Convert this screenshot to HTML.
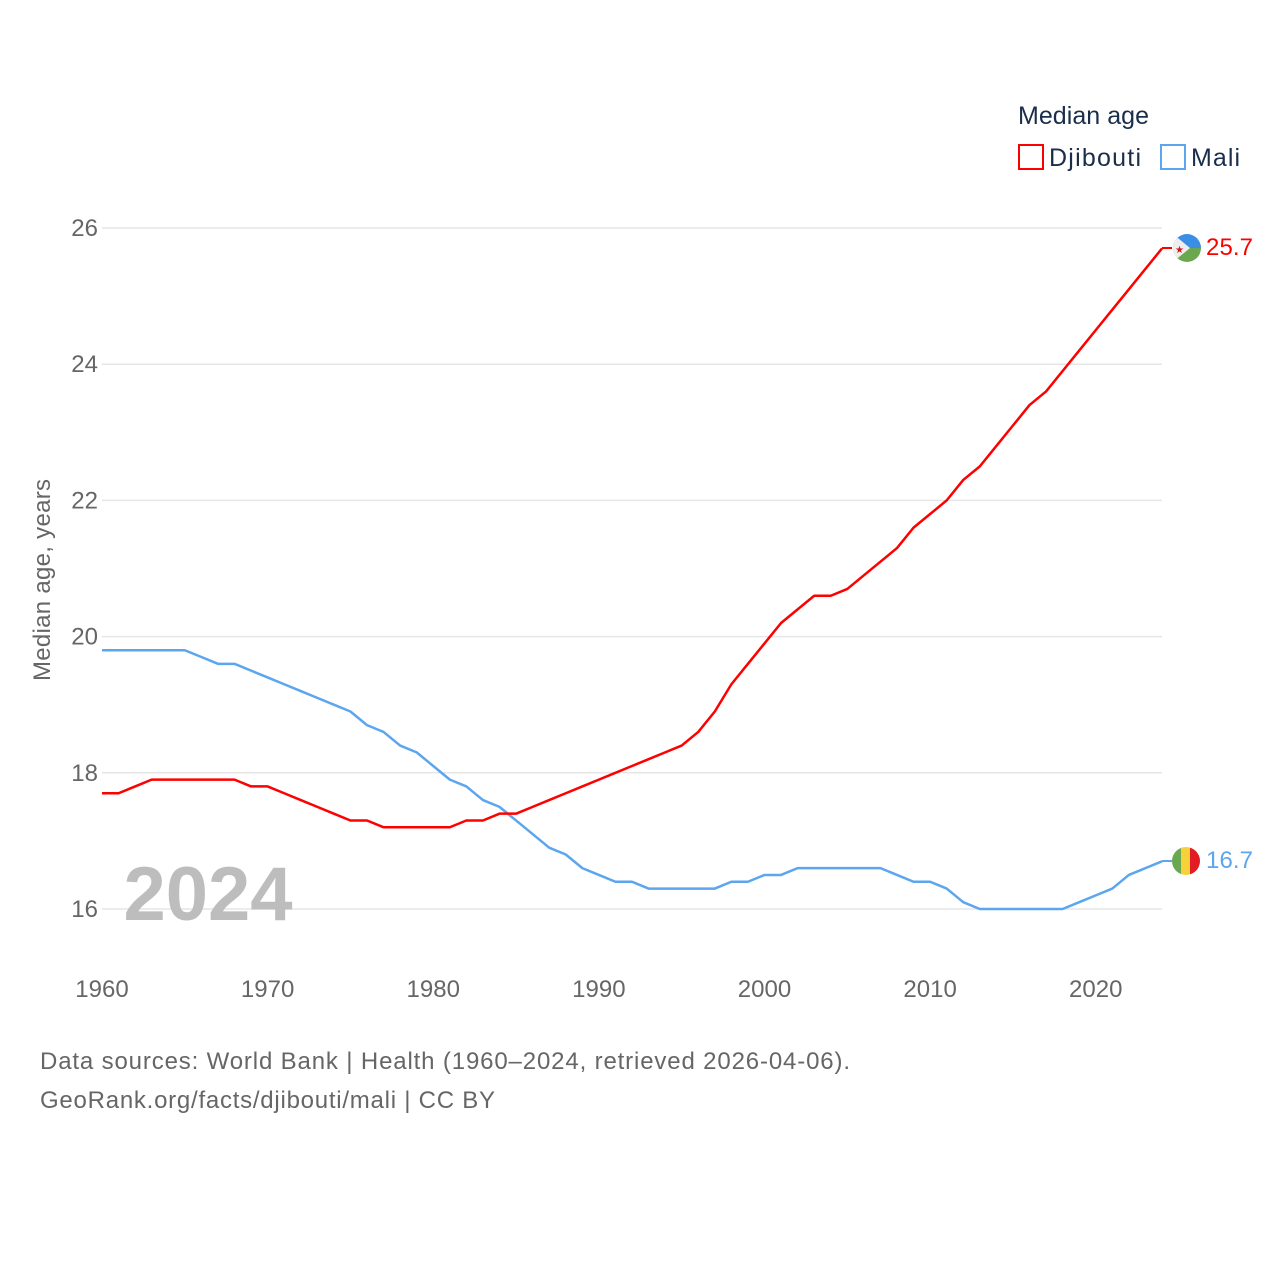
<!DOCTYPE html>
<html><head><meta charset="utf-8"><style>
body{margin:0;background:#fff;font-family:"Liberation Sans",sans-serif;}
svg{display:block}
</style></head><body>
<svg id="chart" width="1280" height="1280" viewBox="0 0 1280 1280">
<g id="grid"></g>
<g id="yticks"></g>
<g id="xticks"></g>
<text x="208" y="920" font-size="76" font-weight="bold" fill="#bdbdbd" text-anchor="middle">2024</text>
<text transform="translate(50,580) rotate(-90)" font-size="24" fill="#666" text-anchor="middle" textLength="202">Median age, years</text>
<g id="series"></g>
<g>
<text x="1018" y="124" font-size="25" fill="#1a2e4a" textLength="131">Median age</text>
<g><rect x="1019" y="145" width="24" height="24" fill="none" stroke="#ff0000" stroke-width="2"/><text x="1049" y="166" font-size="25" fill="#1a2e4a" textLength="92">Djibouti</text></g>
<g><rect x="1161" y="145" width="24" height="24" fill="none" stroke="#5ba6ee" stroke-width="2"/><text x="1191" y="166" font-size="25" fill="#1a2e4a" textLength="49">Mali</text></g>
</g>
<g>
<clipPath id="cd"><circle cx="1187" cy="248" r="14"/></clipPath>
<g clip-path="url(#cd)"><rect x="1173" y="234" width="28" height="14" fill="#3a8ee6"/><rect x="1173" y="248" width="28" height="14" fill="#6aa84f"/><polygon points="1173,234 1190,248 1173,262" fill="#eee"/><text x="1175" y="253" font-size="10" fill="#d7141a">★</text></g>
</g>
<g>
<clipPath id="cm"><circle cx="1186" cy="861" r="14"/></clipPath>
<g clip-path="url(#cm)"><rect x="1172" y="847" width="10" height="28" fill="#6aa84f"/><rect x="1181" y="847" width="10" height="28" fill="#f6d13c"/><rect x="1190" y="847" width="10" height="28" fill="#e31b23"/></g>
</g>
<line x1="1162" y1="248" x2="1172" y2="248" stroke="#ff0000" stroke-width="2"/>
<line x1="1162" y1="861" x2="1172" y2="861" stroke="#5ba6ee" stroke-width="2"/>
<text x="1206" y="255" font-size="24" fill="#ff0000" textLength="47">25.7</text>
<text x="1206" y="868" font-size="24" fill="#5ba6ee" textLength="47">16.7</text>
<text x="40" y="1069" font-size="24" fill="#666" textLength="810">Data sources: World Bank | Health (1960–2024, retrieved 2026-04-06).</text>
<text x="40" y="1108" font-size="24" fill="#666" textLength="455">GeoRank.org/facts/djibouti/mali | CC BY</text>
</svg>
<script>
const years = [];
for (let y = 1960; y <= 2024; y++) years.push(y);
const djibouti = [17.7,17.7,17.8,17.9,17.9,17.9,17.9,17.9,17.9,17.8,17.8,17.7,17.6,17.5,17.4,17.3,17.3,17.2,17.2,17.2,17.2,17.2,17.3,17.3,17.4,17.4,17.5,17.6,17.7,17.8,17.9,18.0,18.1,18.2,18.3,18.4,18.6,18.9,19.3,19.6,19.9,20.2,20.4,20.6,20.6,20.7,20.9,21.1,21.3,21.6,21.8,22.0,22.3,22.5,22.8,23.1,23.4,23.6,23.9,24.2,24.5,24.8,25.1,25.4,25.7];
const mali = [19.8,19.8,19.8,19.8,19.8,19.8,19.7,19.6,19.6,19.5,19.4,19.3,19.2,19.1,19.0,18.9,18.7,18.6,18.4,18.3,18.1,17.9,17.8,17.6,17.5,17.3,17.1,16.9,16.8,16.6,16.5,16.4,16.4,16.3,16.3,16.3,16.3,16.3,16.4,16.4,16.5,16.5,16.6,16.6,16.6,16.6,16.6,16.6,16.5,16.4,16.4,16.3,16.1,16.0,16.0,16.0,16.0,16.0,16.0,16.1,16.2,16.3,16.5,16.6,16.7];
const yTicks = [16,18,20,22,24,26];
const xTicks = [1960,1970,1980,1990,2000,2010,2020];
const NS = "http://www.w3.org/2000/svg";
const xS = v => 102 + (v - 1960) * (1162 - 102) / 64;
const yS = v => 909 - (v - 16) * (909 - 228) / 10;
const grid = document.getElementById('grid'), yt = document.getElementById('yticks'), xt = document.getElementById('xticks'), ser = document.getElementById('series');
yTicks.forEach(t => {
  const l = document.createElementNS(NS,'line');
  l.setAttribute('x1',102); l.setAttribute('x2',1162); l.setAttribute('y1',yS(t)); l.setAttribute('y2',yS(t));
  l.setAttribute('stroke','#e6e6e6'); l.setAttribute('stroke-width','1.5');
  
  
  grid.appendChild(l);
  const tx = document.createElementNS(NS,'text');
  tx.setAttribute('x',98); tx.setAttribute('y',yS(t)+8); tx.setAttribute('text-anchor','end');
  tx.setAttribute('font-size','24'); tx.setAttribute('fill','#666'); tx.textContent = t;
  
  
  yt.appendChild(tx);
});
xTicks.forEach(t => {
  const tx = document.createElementNS(NS,'text');
  tx.setAttribute('x',xS(t)); tx.setAttribute('y',997); tx.setAttribute('text-anchor','middle');
  tx.setAttribute('font-size','24'); tx.setAttribute('fill','#666'); tx.textContent = t;
  
  
  xt.appendChild(tx);
});
function drawLine(vals, color, name) {
  const p = document.createElementNS(NS,'polyline');
  p.setAttribute('points', vals.map((v,i) => xS(years[i]) + ',' + yS(v)).join(' '));
  p.setAttribute('fill','none'); p.setAttribute('stroke',color); p.setAttribute('stroke-width','2.5');
  p.setAttribute('stroke-linejoin','round');
  
  
  ser.appendChild(p);
}
drawLine(mali, '#5ba6ee', 'mali-line');
drawLine(djibouti, '#ff0000', 'djibouti-line');
</script>
</body></html>
